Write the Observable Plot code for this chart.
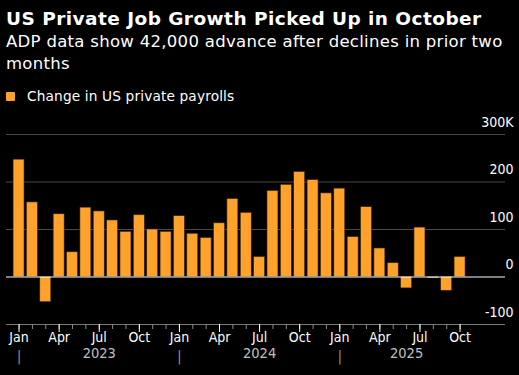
<!DOCTYPE html>
<html><head><meta charset="utf-8">
<script src="https://cdn.jsdelivr.net/npm/d3@7"></script>
<script src="https://cdn.jsdelivr.net/npm/@observablehq/plot@0.6"></script>
<style>
body{margin:0;background:#000;width:519px;height:375px;overflow:hidden;font-family:"DejaVu Sans",sans-serif;color:#fff;position:relative}
#title{position:absolute;left:6px;top:8px;font-weight:bold;font-size:18.5px;letter-spacing:0.45px;white-space:nowrap;line-height:22px}
#sub{position:absolute;left:6px;top:31px;font-size:16.5px;letter-spacing:0.3px;line-height:21.5px;width:510px}
#legend{position:absolute;left:6px;top:88px;font-size:13.7px;letter-spacing:0.15px;line-height:16px;display:flex;align-items:center;white-space:nowrap}
#legend .sw{width:9px;height:9px;background:#ffa22b;border-radius:1px;margin-right:12px}
#chart{position:absolute;left:0;top:110px}
</style></head><body>
<div id="title">US Private Job Growth Picked Up in October</div>
<div id="sub">ADP data show 42,000 advance after declines in prior two months</div>
<div id="legend"><span class="sw"></span><span>Change in US private payrolls</span></div>
<div id="chart"></div>
<script>
const months = ["2023-01","2023-02","2023-03","2023-04","2023-05","2023-06","2023-07","2023-08","2023-09","2023-10","2023-11","2023-12",
"2024-01","2024-02","2024-03","2024-04","2024-05","2024-06","2024-07","2024-08","2024-09","2024-10","2024-11","2024-12",
"2025-01","2025-02","2025-03","2025-04","2025-05","2025-06","2025-07","2025-08","2025-09","2025-10"];
const values = [247,157,-53,132,52,146,138,119,95,130,100,95,128,91,82,113,164,135,42,181,194,221,204,176,186,84,147,60,29,-24,104,-3,-29,42];
const monthNames = ["Jan","Feb","Mar","Apr","May","Jun","Jul","Aug","Sep","Oct","Nov","Dec"];
const yTicks = [-100,0,100,200,300];
const yTickLabels = ["-100","0","100","200","300K"];
const years = ["2023","2024","2025"];

const data = months.map((m,i)=>({i, month:m, value:values[i], mon:+m.slice(5)-1, year:m.slice(0,4)}));
const quarters = data.filter(d=>d.mon%3===0);
const yearData = years.map(y=>{
  const idx = data.filter(d=>d.year===y).map(d=>d.i);
  return {year:y, pos:(d3.min(idx)+d3.max(idx)+1)/2, start:d3.min(idx)};
});

const chart = Plot.plot({
  width:519, height:265,
  marginLeft:6, marginRight:14, marginTop:24, marginBottom:51,
  style:{background:"#000", color:"#fff", fontFamily:'"DejaVu Sans Condensed","DejaVu Sans",sans-serif'},
  x:{type:"linear", domain:[-0.94,36.4], axis:null},
  y:{domain:[-100,300], axis:null},
  marks:[
    Plot.ruleY(yTicks.filter(d=>d!==0 && d!==-100), {stroke:"#4a4a4a", strokeWidth:1}),
    Plot.ruleY([-100], {stroke:"#777", strokeWidth:1}),
    Plot.rectY(data, {x1:d=>d.i-0.41, x2:d=>d.i+0.41, y1:0, y2:"value", fill:"#ffa22b", stroke:"#3a2408", strokeWidth:0.6}),
    Plot.ruleY([0], {stroke:"#fff", strokeWidth:1}),
    Plot.axisX(data.map(d=>d.i), {tickSize:5, stroke:"#888", tickFormat:()=>""}),
    Plot.axisX(quarters.map(d=>d.i), {tickSize:8, stroke:"#fff", tickFormat:()=>""}),
    Plot.text(quarters, {x:"i", text:d=>monthNames[d.mon], frameAnchor:"bottom", dy:17.4, fill:"#fff", fontSize:14}),
    Plot.text(yearData, {x:"pos", text:"year", frameAnchor:"bottom", dy:33.7, fill:"#c0c0c0", fontSize:14.5}),
    Plot.text(yearData, {x:"start", text:()=>"|", frameAnchor:"bottom", dy:36.3, fill:"#999", fontSize:14}),
    Plot.text(yTicks, {y:d=>d, text:(d,i)=>yTickLabels[i], frameAnchor:"right", textAnchor:"end", dx:8, dy:-12, fill:"#fff", fontSize:14})
  ]
});
document.getElementById("chart").append(chart);
</script>
</body></html>
